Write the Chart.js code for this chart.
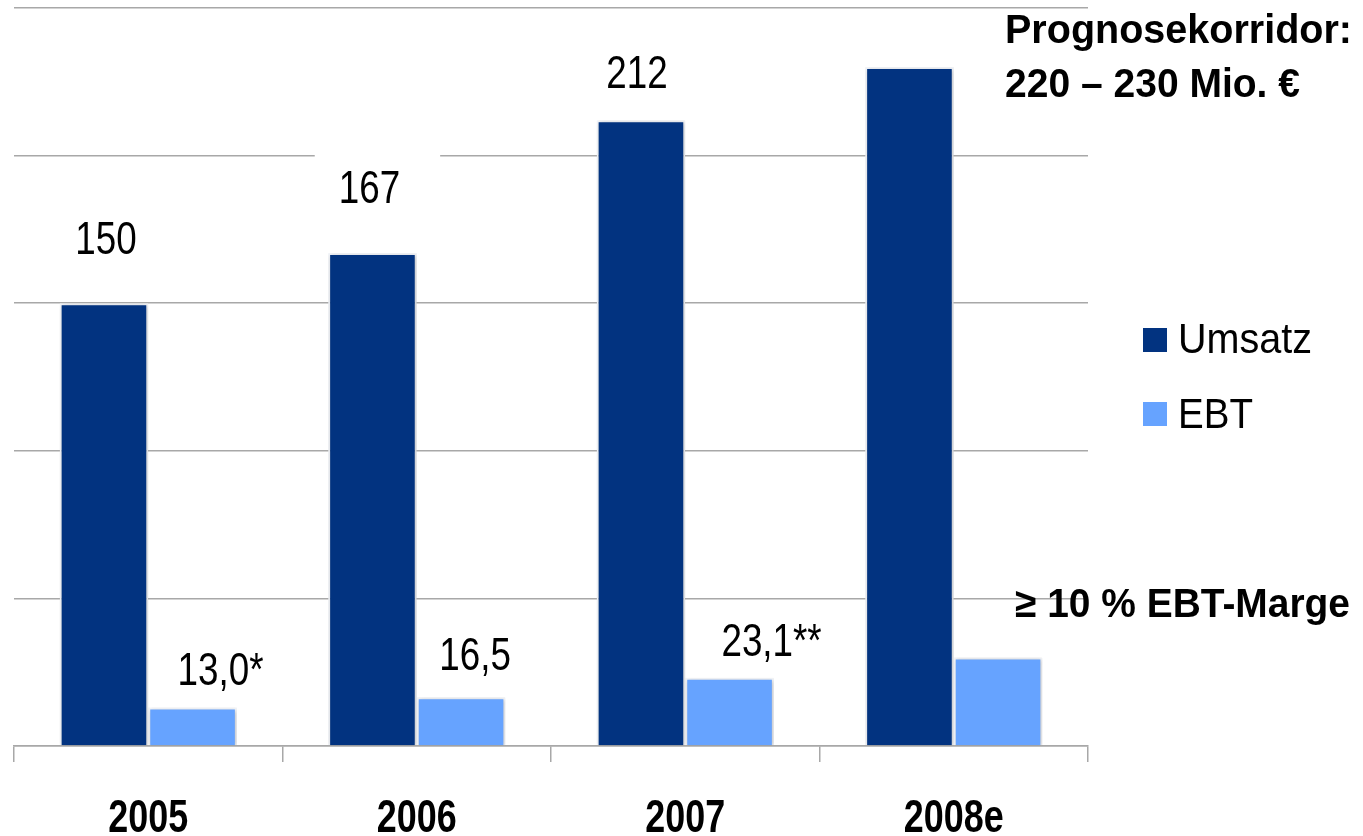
<!DOCTYPE html>
<html>
<head>
<meta charset="utf-8">
<script src="https://cdn.jsdelivr.net/npm/chart.js@4.4.0/dist/chart.umd.min.js"></script>
<style>
    html, body { margin: 0; padding: 0; background: #fff; }
    .chart-box { width: 1363px; height: 836px; position: relative; }
</style>
</head>
<body>
<div class="chart-box"><canvas id="revenueChart"></canvas></div>
<script>
// Data
const years = ['2005', '2006', '2007', '2008e'];
const umsatz = [150, 167, 212, 230];
const ebt = [13.0, 16.5, 23.1, 30];
const umsatzLabels = ['150', '167', '212', ''];
const ebtLabels = ['13,0*', '16,5', '23,1**', ''];
const yTicks = [0, 50, 100, 150, 200, 250];

const FONT = '"Liberation Sans", Arial, sans-serif';
const NARROW = 0.8; // no narrow face installed, squeeze by hand
const darkBlue = '#023380';
const lightBlue = '#66a3ff';

// text squeezed horizontally; align 'left' or 'center'
function drawSqueezed(ctx, text, x, y, font, sx, align) {
    ctx.save();
    ctx.font = font;
    ctx.textAlign = align;
    ctx.textBaseline = 'alphabetic';
    ctx.translate(x, y);
    ctx.scale(sx, 1);
    ctx.fillText(text, 0, 0);
    ctx.restore();
}

// text squeezed to fill a given width
function drawFit(ctx, text, x, y, font, width) {
    ctx.save();
    ctx.font = font;
    const sx = width / ctx.measureText(text).width;
    ctx.restore();
    drawSqueezed(ctx, text, x, y, font, sx, 'left');
}

document.addEventListener('DOMContentLoaded', function() {
    // value labels above the bars
    const valueLabels = {
        id: 'valueLabels',
        afterDatasetsDraw(chart) {
            const ctx = chart.ctx;
            const font = '46px ' + FONT;
            const sets = [
                { labels: umsatzLabels, dx: [2, -3, -4, 0], dy: [49, 50, 32, 0], box: true },
                { labels: ebtLabels, dx: [28, 14, 42, 0], dy: [23, 27, 22, 0], box: false }
            ];
            sets.forEach((s, di) => {
                const meta = chart.getDatasetMeta(di);
                meta.data.forEach((bar, i) => {
                    const txt = s.labels[i];
                    if (!txt) return;
                    const x = bar.x + s.dx[i];
                    const y = bar.y - s.dy[i];
                    if (s.box) {
                        // white box hides the grid line behind the label
                        ctx.save();
                        ctx.font = font;
                        const w = ctx.measureText(txt).width * NARROW + 64;
                        ctx.fillStyle = '#fff';
                        ctx.fillRect(x - w / 2 + 8, y - 54, w, 66);
                        ctx.restore();
                    }
                    ctx.fillStyle = '#000';
                    drawSqueezed(ctx, txt, x, y, font, NARROW, 'center');
                });
            });
        }
    };

    // category labels, legend and side notes
    const sideText = {
        id: 'sideText',
        afterDraw(chart) {
            const ctx = chart.ctx;
            const xScale = chart.scales.x;
            ctx.fillStyle = '#000';
            years.forEach((yr, i) => {
                drawSqueezed(ctx, yr, xScale.getPixelForValue(i), 832, 'bold 46px ' + FONT, 0.78, 'center');
            });

            drawFit(ctx, 'Prognosekorridor:', 1005, 43, 'bold 41px ' + FONT, 347);
            drawFit(ctx, '220 \u2013 230 Mio. \u20ac', 1005, 97, 'bold 41px ' + FONT, 295);
            drawFit(ctx, '\u2265 10 % EBT-Marge', 1015, 617, 'bold 41px ' + FONT, 335);

            const items = [['Umsatz', darkBlue, 340, 353, 134], ['EBT', lightBlue, 414, 428, 75]];
            items.forEach(([name, color, yc, base, w]) => {
                ctx.fillStyle = color;
                ctx.fillRect(1143, yc - 12, 24, 24);
                ctx.fillStyle = '#000';
                drawFit(ctx, name, 1178, base, '43px ' + FONT, w);
            });
        }
    };

    // soft shadow round the bars
    const barShadow = {
        id: 'barShadow',
        beforeDatasetsDraw(chart) {
            const ctx = chart.ctx;
            ctx.save();
            ctx.shadowColor = 'rgba(0, 0, 0, 0.22)';
            ctx.shadowBlur = 4;
            ctx.shadowOffsetX = 1;
            ctx.shadowOffsetY = 1;
        },
        afterDatasetsDraw(chart) {
            chart.ctx.restore();
        }
    };

    const ctx = document.getElementById('revenueChart').getContext('2d');
    new Chart(ctx, {
        type: 'bar',
        data: {
            labels: years,
            datasets: [
                {
                    label: 'Umsatz',
                    data: umsatz,
                    backgroundColor: darkBlue,
                    borderColor: '#f2f4f8',
                    borderWidth: 2,
                    categoryPercentage: 0.66,
                    barPercentage: 1.0
                },
                {
                    label: 'EBT',
                    data: ebt,
                    backgroundColor: lightBlue,
                    borderColor: '#f2f4f8',
                    borderWidth: 2,
                    categoryPercentage: 0.66,
                    barPercentage: 1.0
                }
            ]
        },
        options: {
            responsive: true,
            maintainAspectRatio: false,
            devicePixelRatio: 1,
            animation: false,
            layout: {
                padding: { left: 14, right: 275, top: 8, bottom: 0 }
            },
            plugins: {
                legend: { display: false },
                tooltip: { enabled: false }
            },
            scales: {
                y: {
                    min: 0,
                    max: yTicks[yTicks.length - 1],
                    afterBuildTicks: scale => {
                        scale.ticks = yTicks.map(v => ({ value: v }));
                    },
                    ticks: { display: false },
                    grid: {
                        color: '#a8a8a8',
                        lineWidth: 1.5,
                        drawTicks: false
                    },
                    border: { display: false }
                },
                x: {
                    afterFit: scale => { scale.height = 90; },
                    grid: {
                        offset: true,
                        drawOnChartArea: false,
                        color: '#a8a8a8',
                        lineWidth: 1.5,
                        tickLength: 16
                    },
                    border: { display: true, color: '#a8a8a8', width: 1.5 },
                    ticks: { display: false }
                }
            }
        },
        plugins: [barShadow, valueLabels, sideText]
    });
});
</script>
</body>
</html>
